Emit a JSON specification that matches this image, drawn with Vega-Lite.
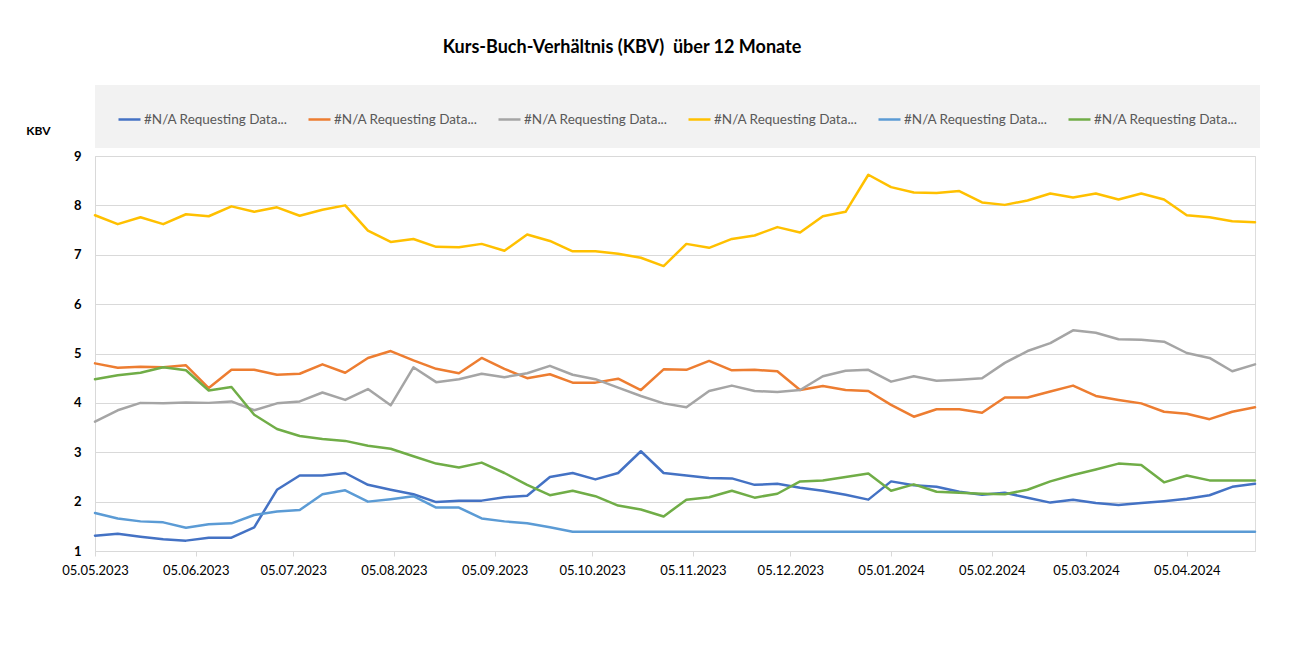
{
  "$schema": "https://vega.github.io/schema/vega-lite/v6.json",
  "width": 1160,
  "height": 395,
  "autosize": {"type": "none"},
  "padding": {"left": 95, "top": 156, "right": 56, "bottom": 96},
  "background": "white",
  "title": {
    "text": "Kurs-Buch-Verhältnis (KBV)\u00a0 über 12 Monate",
    "font": "Lato",
    "fontSize": 18,
    "fontWeight": "bold",
    "color": "#000000",
    "anchor": "middle",
    "dx": -53,
    "offset": 28
  },
  "data": {
    "values": [
      {"d": "2023-05-05", "s1": 1.31, "s2": 4.80, "s3": 3.62, "s4": 7.80, "s5": 1.77, "s6": 4.48},
      {"d": "2023-05-12", "s1": 1.35, "s2": 4.71, "s3": 3.85, "s4": 7.62, "s5": 1.66, "s6": 4.56},
      {"d": "2023-05-19", "s1": 1.29, "s2": 4.73, "s3": 4.00, "s4": 7.76, "s5": 1.60, "s6": 4.61},
      {"d": "2023-05-26", "s1": 1.24, "s2": 4.72, "s3": 3.99, "s4": 7.62, "s5": 1.58, "s6": 4.72},
      {"d": "2023-06-02", "s1": 1.21, "s2": 4.76, "s3": 4.01, "s4": 7.82, "s5": 1.47, "s6": 4.66},
      {"d": "2023-06-09", "s1": 1.27, "s2": 4.30, "s3": 4.00, "s4": 7.78, "s5": 1.54, "s6": 4.25},
      {"d": "2023-06-16", "s1": 1.27, "s2": 4.67, "s3": 4.03, "s4": 7.98, "s5": 1.56, "s6": 4.32},
      {"d": "2023-06-23", "s1": 1.48, "s2": 4.67, "s3": 3.85, "s4": 7.87, "s5": 1.73, "s6": 3.76},
      {"d": "2023-06-30", "s1": 2.24, "s2": 4.57, "s3": 3.99, "s4": 7.96, "s5": 1.80, "s6": 3.47},
      {"d": "2023-07-07", "s1": 2.53, "s2": 4.59, "s3": 4.03, "s4": 7.79, "s5": 1.83, "s6": 3.33},
      {"d": "2023-07-14", "s1": 2.53, "s2": 4.78, "s3": 4.21, "s4": 7.91, "s5": 2.15, "s6": 3.27},
      {"d": "2023-07-21", "s1": 2.58, "s2": 4.61, "s3": 4.06, "s4": 8.00, "s5": 2.23, "s6": 3.23},
      {"d": "2023-07-28", "s1": 2.34, "s2": 4.91, "s3": 4.28, "s4": 7.49, "s5": 2.00, "s6": 3.13},
      {"d": "2023-08-04", "s1": 2.24, "s2": 5.05, "s3": 3.95, "s4": 7.26, "s5": 2.05, "s6": 3.07},
      {"d": "2023-08-11", "s1": 2.15, "s2": 4.86, "s3": 4.72, "s4": 7.32, "s5": 2.11, "s6": 2.92},
      {"d": "2023-08-18", "s1": 1.99, "s2": 4.69, "s3": 4.42, "s4": 7.16, "s5": 1.88, "s6": 2.77},
      {"d": "2023-08-25", "s1": 2.02, "s2": 4.60, "s3": 4.48, "s4": 7.15, "s5": 1.88, "s6": 2.69},
      {"d": "2023-09-01", "s1": 2.02, "s2": 4.91, "s3": 4.59, "s4": 7.22, "s5": 1.66, "s6": 2.79},
      {"d": "2023-09-08", "s1": 2.09, "s2": 4.69, "s3": 4.52, "s4": 7.08, "s5": 1.60, "s6": 2.58},
      {"d": "2023-09-15", "s1": 2.12, "s2": 4.50, "s3": 4.60, "s4": 7.41, "s5": 1.56, "s6": 2.34},
      {"d": "2023-09-22", "s1": 2.50, "s2": 4.58, "s3": 4.75, "s4": 7.28, "s5": 1.48, "s6": 2.13},
      {"d": "2023-09-29", "s1": 2.58, "s2": 4.41, "s3": 4.57, "s4": 7.07, "s5": 1.39, "s6": 2.22},
      {"d": "2023-10-06", "s1": 2.45, "s2": 4.41, "s3": 4.48, "s4": 7.07, "s5": 1.39, "s6": 2.11},
      {"d": "2023-10-13", "s1": 2.58, "s2": 4.49, "s3": 4.31, "s4": 7.02, "s5": 1.39, "s6": 1.92},
      {"d": "2023-10-20", "s1": 3.02, "s2": 4.26, "s3": 4.14, "s4": 6.94, "s5": 1.39, "s6": 1.84},
      {"d": "2023-10-27", "s1": 2.58, "s2": 4.68, "s3": 3.99, "s4": 6.77, "s5": 1.39, "s6": 1.70},
      {"d": "2023-11-03", "s1": 2.53, "s2": 4.67, "s3": 3.91, "s4": 7.22, "s5": 1.39, "s6": 2.04},
      {"d": "2023-11-10", "s1": 2.48, "s2": 4.85, "s3": 4.24, "s4": 7.14, "s5": 1.39, "s6": 2.09},
      {"d": "2023-11-17", "s1": 2.47, "s2": 4.66, "s3": 4.35, "s4": 7.32, "s5": 1.39, "s6": 2.22},
      {"d": "2023-11-24", "s1": 2.34, "s2": 4.67, "s3": 4.24, "s4": 7.39, "s5": 1.39, "s6": 2.08},
      {"d": "2023-12-01", "s1": 2.36, "s2": 4.64, "s3": 4.22, "s4": 7.56, "s5": 1.39, "s6": 2.16},
      {"d": "2023-12-08", "s1": 2.28, "s2": 4.26, "s3": 4.26, "s4": 7.45, "s5": 1.39, "s6": 2.41},
      {"d": "2023-12-15", "s1": 2.22, "s2": 4.34, "s3": 4.54, "s4": 7.78, "s5": 1.39, "s6": 2.43},
      {"d": "2023-12-22", "s1": 2.14, "s2": 4.26, "s3": 4.65, "s4": 7.87, "s5": 1.39, "s6": 2.50},
      {"d": "2023-12-29", "s1": 2.04, "s2": 4.24, "s3": 4.67, "s4": 8.62, "s5": 1.39, "s6": 2.57},
      {"d": "2024-01-05", "s1": 2.41, "s2": 3.96, "s3": 4.43, "s4": 8.37, "s5": 1.39, "s6": 2.22},
      {"d": "2024-01-12", "s1": 2.33, "s2": 3.72, "s3": 4.54, "s4": 8.26, "s5": 1.39, "s6": 2.35},
      {"d": "2024-01-19", "s1": 2.30, "s2": 3.87, "s3": 4.45, "s4": 8.25, "s5": 1.39, "s6": 2.20},
      {"d": "2024-01-26", "s1": 2.20, "s2": 3.87, "s3": 4.47, "s4": 8.29, "s5": 1.39, "s6": 2.18},
      {"d": "2024-02-02", "s1": 2.14, "s2": 3.80, "s3": 4.50, "s4": 8.06, "s5": 1.39, "s6": 2.16},
      {"d": "2024-02-09", "s1": 2.18, "s2": 4.11, "s3": 4.81, "s4": 8.01, "s5": 1.39, "s6": 2.15},
      {"d": "2024-02-16", "s1": 2.08, "s2": 4.11, "s3": 5.05, "s4": 8.10, "s5": 1.39, "s6": 2.24},
      {"d": "2024-02-23", "s1": 1.98, "s2": 4.23, "s3": 5.21, "s4": 8.24, "s5": 1.39, "s6": 2.41},
      {"d": "2024-03-01", "s1": 2.04, "s2": 4.35, "s3": 5.47, "s4": 8.16, "s5": 1.39, "s6": 2.54},
      {"d": "2024-03-08", "s1": 1.97, "s2": 4.14, "s3": 5.42, "s4": 8.24, "s5": 1.39, "s6": 2.65},
      {"d": "2024-03-15", "s1": 1.93, "s2": 4.06, "s3": 5.29, "s4": 8.12, "s5": 1.39, "s6": 2.77},
      {"d": "2024-03-22", "s1": 1.97, "s2": 3.99, "s3": 5.28, "s4": 8.24, "s5": 1.39, "s6": 2.74},
      {"d": "2024-03-29", "s1": 2.01, "s2": 3.82, "s3": 5.24, "s4": 8.12, "s5": 1.39, "s6": 2.39},
      {"d": "2024-04-05", "s1": 2.06, "s2": 3.78, "s3": 5.01, "s4": 7.80, "s5": 1.39, "s6": 2.53},
      {"d": "2024-04-12", "s1": 2.13, "s2": 3.67, "s3": 4.91, "s4": 7.76, "s5": 1.39, "s6": 2.43},
      {"d": "2024-04-19", "s1": 2.30, "s2": 3.82, "s3": 4.64, "s4": 7.68, "s5": 1.39, "s6": 2.43},
      {"d": "2024-04-26", "s1": 2.36, "s2": 3.91, "s3": 4.78, "s4": 7.66, "s5": 1.39, "s6": 2.43}
    ]
  },
  "transform": [
    {"fold": ["s1", "s2", "s3", "s4", "s5", "s6"], "as": ["series", "value"]}
  ],
  "mark": {"type": "line", "strokeWidth": 2.5, "strokeJoin": "round", "strokeCap": "round"},
  "encoding": {
    "x": {
      "field": "d",
      "type": "temporal",
      "scale": {"type": "utc", "domain": [{"year": 2023, "month": 5, "date": 5, "utc": true}, {"year": 2024, "month": 4, "date": 26, "utc": true}]},
      "axis": {
        "title": null,
        "values": [
          {"year": 2023, "month": 5, "date": 5, "utc": true},
          {"year": 2023, "month": 6, "date": 5, "utc": true},
          {"year": 2023, "month": 7, "date": 5, "utc": true},
          {"year": 2023, "month": 8, "date": 5, "utc": true},
          {"year": 2023, "month": 9, "date": 5, "utc": true},
          {"year": 2023, "month": 10, "date": 5, "utc": true},
          {"year": 2023, "month": 11, "date": 5, "utc": true},
          {"year": 2023, "month": 12, "date": 5, "utc": true},
          {"year": 2024, "month": 1, "date": 5, "utc": true},
          {"year": 2024, "month": 2, "date": 5, "utc": true},
          {"year": 2024, "month": 3, "date": 5, "utc": true},
          {"year": 2024, "month": 4, "date": 5, "utc": true}
        ],
        "labelExpr": "utcFormat(datum.value, '%d.%m.%Y')",
        "grid": false,
        "domainColor": "#d9d9d9",
        "tickColor": "#d9d9d9",
        "tickSize": 5,
        "labelFont": "Lato",
        "labelFontSize": 13,
        "labelColor": "#000000",
        "labelPadding": 8,
        "labelFlush": false,
        "labelOverlap": false
      }
    },
    "y": {
      "field": "value",
      "type": "quantitative",
      "scale": {"domain": [1, 9], "nice": false, "zero": false},
      "axis": {
        "title": "KBV",
        "titleAngle": 0,
        "titleX": -57,
        "titleY": -26,
        "titleAlign": "center",
        "titleBaseline": "middle",
        "titleFont": "Lato",
        "titleFontSize": 12,
        "titleFontWeight": "bold",
        "titleColor": "#000000",
        "values": [1, 2, 3, 4, 5, 6, 7, 8, 9],
        "grid": true,
        "gridColor": "#d9d9d9",
        "gridWidth": 1,
        "domain": true,
        "domainColor": "#d9d9d9",
        "ticks": false,
        "labelFont": "Lato",
        "labelFontSize": 13,
        "labelFontWeight": "bold",
        "labelColor": "#000000",
        "labelPadding": 14
      }
    },
    "color": {
      "field": "series",
      "type": "nominal",
      "scale": {
        "domain": ["s1", "s2", "s3", "s4", "s5", "s6"],
        "range": ["#4472C4", "#ED7D31", "#A5A5A5", "#FFC000", "#5B9BD5", "#70AD47"]
      },
      "legend": {
        "title": null,
        "orient": "none",
        "legendX": 0,
        "legendY": -71,
        "direction": "horizontal",
        "columns": 6,
        "fillColor": "#f2f2f2",
        "padding": 22,
        "symbolType": "stroke",
        "symbolSize": 484,
        "symbolStrokeWidth": 2.5,
        "labelFont": "Lato",
        "labelFontSize": 13.5,
        "labelColor": "#595959",
        "labelOffset": 2,
        "labelLimit": 300,
        "labelExpr": "'#N/A Requesting Data...'",
        "columnPadding": 15
      }
    }
  }
}
